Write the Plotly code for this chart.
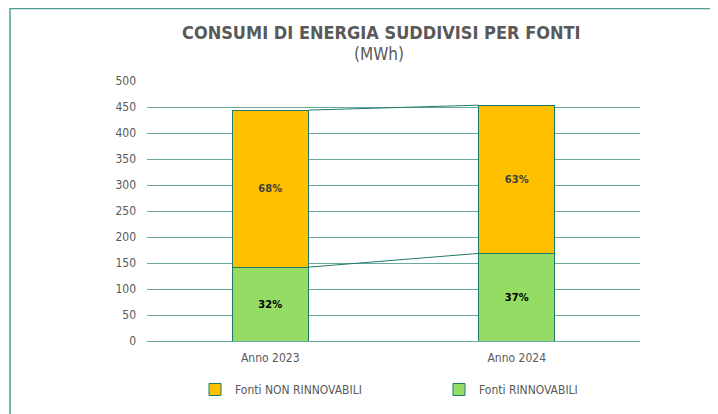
import plotly.graph_objects as go

categories = ["Anno 2023", "Anno 2024"]
rinnovabili = [142, 168.5]
non_rinnovabili = [302, 285]
series_names = ["Fonti RINNOVABILI", "Fonti NON RINNOVABILI"]
y_ticks = [0, 50, 100, 150, 200, 250, 300, 350, 400, 450, 500]

GREEN = "#94DC63"
ORANGE = "#FFC000"
EDGE = "#1F7A6A"
GRID = "#6AA89E"
TXT = "#595959"
FONT = "DejaVu Sans Condensed, DejaVu Sans, sans-serif"

xpos = list(range(len(categories)))
bar_w = 0.31
totals = [a + b for a, b in zip(rinnovabili, non_rinnovabili)]
pct_r = [f"{round(100 * a / t)}%" for a, t in zip(rinnovabili, totals)]
pct_n = [f"{round(100 * b / t)}%" for b, t in zip(non_rinnovabili, totals)]

fig = go.Figure()
fig.add_trace(go.Bar(
    x=xpos, y=rinnovabili, name=series_names[0], width=bar_w,
    marker=dict(color=GREEN, line=dict(color=EDGE, width=1)),
    text=pct_r, textposition="inside", insidetextanchor="middle",
    textfont=dict(family=FONT, size=11, color="#000000", weight="bold"),
    hoverinfo="skip",
))
fig.add_trace(go.Bar(
    x=xpos, y=non_rinnovabili, name=series_names[1], width=bar_w,
    marker=dict(color=ORANGE, line=dict(color=EDGE, width=1)),
    text=pct_n, textposition="inside", insidetextanchor="middle",
    textfont=dict(family=FONT, size=11, color="#404040", weight="bold"),
    hoverinfo="skip",
))

# series lines connecting the tops of stacked segments
for tops in (rinnovabili, totals):
    lx, ly = [], []
    for i in range(len(xpos) - 1):
        lx += [xpos[i] + bar_w / 2, xpos[i + 1] - bar_w / 2, None]
        ly += [tops[i], tops[i + 1], None]
    fig.add_trace(go.Scatter(x=lx, y=ly, mode="lines",
                             line=dict(color=EDGE, width=1),
                             showlegend=False, hoverinfo="skip"))

# the page body has an 8px margin: figure coords = page coords - 8
OFF = 8
W, H = 718 - OFF, 414 - OFF
L, R, T, B = 147 - OFF, 78, 81 - OFF, 73
pw, ph = W - L - R, H - T - B

def px_x(p):  # page pixel -> paper x
    return (p - OFF - L) / pw

def px_y(p):  # page pixel -> paper y
    return (H - B - (p - OFF)) / ph

fig.update_layout(
    width=W, height=H,
    margin=dict(l=L, r=R, t=T, b=B, autoexpand=False),
    barmode="stack",
    paper_bgcolor="white", plot_bgcolor="white",
    font=dict(family=FONT, size=12, color=TXT),
    showlegend=True,
    legend=dict(orientation="h", traceorder="reversed",
                x=px_x(195), xanchor="left", y=px_y(375), yanchor="top",
                entrywidth=199, entrywidthmode="pixels",
                font=dict(family=FONT, size=12, color=TXT),
                itemwidth=30),
    xaxis=dict(range=[-0.5, len(categories) - 0.5], tickmode="array",
               tickvals=xpos, ticktext=categories, showgrid=False,
               zeroline=False, showline=False, ticks="",
               ticklabelstandoff=8,
               tickfont=dict(family=FONT, size=12, color=TXT),
               fixedrange=True),
    yaxis=dict(range=[0, 500], tickmode="array", tickvals=y_ticks,
               showgrid=True, gridcolor=GRID, gridwidth=1,
               zeroline=True, zerolinecolor=GRID, zerolinewidth=1,
               showline=False, ticks="", ticklabelstandoff=10,
               tickfont=dict(family=FONT, size=12, color=TXT),
               fixedrange=True),
    annotations=[
        dict(text="<b>CONSUMI DI ENERGIA SUDDIVISI PER FONTI</b>",
             xref="paper", yref="paper", x=px_x(381), y=px_y(32),
             xanchor="center", yanchor="middle", showarrow=False,
             font=dict(family=FONT, size=18, color=TXT)),
        dict(text="(MWh)",
             xref="paper", yref="paper", x=px_x(379), y=px_y(54),
             xanchor="center", yanchor="middle", showarrow=False,
             font=dict(family=FONT, size=17, color=TXT)),
    ],
    shapes=[dict(type="rect", xref="paper", yref="paper",
                 x0=px_x(10), x1=px_x(740), y0=px_y(440), y1=px_y(8.5),
                 line=dict(color="#4E9C94", width=1.5),
                 fillcolor="rgba(0,0,0,0)", layer="above")],
)

fig.write_html("out.html")
